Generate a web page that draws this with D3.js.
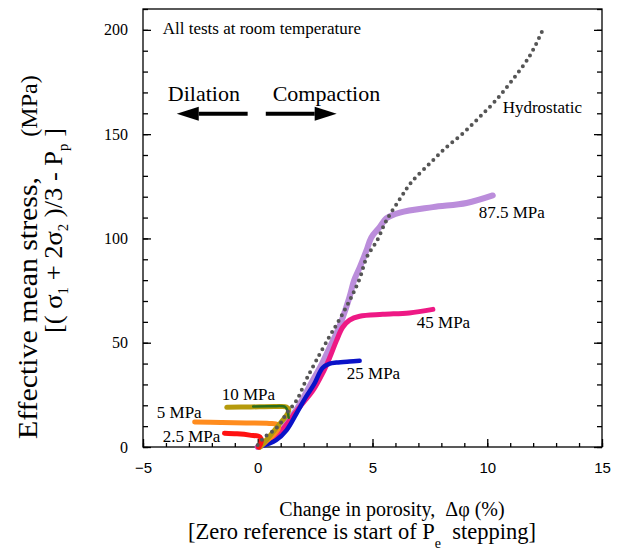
<!DOCTYPE html>
<html>
<head>
<meta charset="utf-8">
<script src="https://cdnjs.cloudflare.com/ajax/libs/d3/7.8.5/d3.min.js"></script>
<style>
    body { margin: 0; background: #fff; }
    .serif { font-family: "Liberation Serif", "Times New Roman", serif; }
    .axis path, .axis line { stroke: #000; stroke-width: 1.3; }
</style>
</head>
<body>
<div class="graph-content"></div>
<script>
// x = change in porosity (%), y = effective mean stress (MPa)
var hydroX = [0, 0.3, 0.7, 1.0, 1.25, 1.7, 2.1, 2.55, 3.1, 3.45, 3.85, 4.15, 4.45, 4.75, 5.2, 5.6, 6.2, 6.7, 7.5, 8.2, 8.95, 9.65, 10.4, 11.1, 11.85, 12.4];
var hydroY = [1, 4.8, 8, 11.5, 16, 22.5, 32, 41.5, 52.5, 59, 67, 73.5, 81, 91, 99, 108.5, 119, 127, 136, 143.5, 150.5, 158, 166.5, 176, 187.5, 199.5];

var p875X = [0, 0.8, 1.3, 1.8, 2.3, 2.8, 3.1, 3.43, 3.7, 4.0, 4.2, 4.44, 4.73, 4.95, 5.32, 5.6, 6.19, 7.63, 9.1, 10.24];
var p875Y = [0, 5, 12, 20, 30, 40, 47, 54.5, 62, 72, 80, 86, 94, 100.5, 105.5, 109.6, 112.4, 115, 117, 120.6];

var p45X = [0, 0.7, 1.2, 1.6, 2.0, 2.4, 2.83, 3.14, 3.43, 3.7, 4.0, 4.44, 5.45, 6.6, 7.63];
var p45Y = [0, 4, 10, 16, 21.5, 27, 35.4, 43, 51, 57.4, 60.8, 62.7, 63.6, 64.3, 66];

var p25X = [0.05, 0.8, 1.25, 1.7, 2.1, 2.45, 2.83, 3.14, 3.43, 4.0, 4.44];
var p25Y = [0, 3.3, 8, 16.3, 24, 30, 38, 40, 40.5, 41, 41.3];

var p10X = [0.1, 0.5, 0.95, 1.3, 1.35, 1.25, 0.8, -0.3, -1.35];
var p10Y = [0, 5, 11, 16, 18, 19.2, 19.4, 19.2, 19];

var p10bX = [1.35, 1.3, 1.2, 0.6, -0.2];
var p10bY = [14, 17, 19.2, 19.5, 19.4];

var p5X = [0.1, 0.4, 0.7, 0.9, 0.85, 0.5, -0.5, -1.6, -2.75];
var p5Y = [0, 3, 6, 9, 10.8, 11.3, 11.5, 11.7, 12];

var p25bX = [0.05, 0.15, 0.1, -0.35, -0.9, -1.45];
var p25bY = [0, 2.5, 4.8, 5.7, 6.3, 6.6];

var yMajor = [0, 50, 100, 150, 200];
var xMajor = [-5, 0, 5, 10, 15];

var margin = {top: 9, right: 21, bottom: 103, left: 143},
    width = 623 - margin.left - margin.right,
    height = 550 - margin.top - margin.bottom;

var svg = d3.select(".graph-content").append("svg")
    .attr("width", 623)
    .attr("height", 550)
    .append("g")
    .attr("transform", "translate(" + margin.left + "," + margin.top + ")");

var x = d3.scaleLinear().domain([-5, 15]).range([0, width]);
var y = d3.scaleLinear().domain([0, 210]).range([height, 0]);

// frame
svg.append("rect")
    .attr("width", width)
    .attr("height", height)
    .attr("fill", "none")
    .attr("stroke", "#000")
    .attr("stroke-width", 1.3);

// minor ticks
svg.append("g").attr("class", "axis")
    .call(d3.axisLeft(y).tickValues(d3.range(0, 211, 10)).tickSize(-5).tickSizeOuter(0).tickFormat(""));
svg.append("g").attr("class", "axis")
    .attr("transform", "translate(" + width + ",0)")
    .call(d3.axisRight(y).tickValues(d3.range(0, 211, 10)).tickSize(-5).tickSizeOuter(0).tickFormat(""));
svg.append("g").attr("class", "axis")
    .attr("transform", "translate(0," + height + ")")
    .call(d3.axisBottom(x).tickValues(d3.range(-5, 16, 1)).tickSize(-4).tickSizeOuter(0).tickFormat(""));

// major ticks + labels
svg.append("g").attr("class", "axis serif")
    .call(d3.axisLeft(y).tickValues(yMajor).tickSize(-8).tickSizeOuter(0).tickPadding(15))
    .selectAll("text")
    .attr("font-size", 16)
    .attr("font-family", "Liberation Serif, Times New Roman, serif");
svg.append("g").attr("class", "axis")
    .attr("transform", "translate(" + width + ",0)")
    .call(d3.axisRight(y).tickValues(yMajor).tickSize(-8).tickSizeOuter(0).tickFormat(""));
svg.append("g").attr("class", "axis")
    .attr("transform", "translate(0," + height + ")")
    .call(d3.axisBottom(x).tickValues(xMajor).tickSize(-8).tickSizeOuter(0).tickPadding(15))
    .selectAll("text")
    .attr("font-size", 15)
    .attr("font-family", "Liberation Sans, Arial, sans-serif");

svg.selectAll(".axis .domain").remove();

var line = d3.line()
    .curve(d3.curveCatmullRom.alpha(0.5))
    .x(function(d) { return x(d[0]); })
    .y(function(d) { return y(d[1]); });

function pts(xs, ys) { return xs.map(function(v, i) { return [v, ys[i]]; }); }

function drawCurve(xs, ys, color, w) {
    svg.append("path")
        .datum(pts(xs, ys))
        .attr("d", line)
        .attr("fill", "none")
        .attr("stroke", color)
        .attr("stroke-width", w)
        .attr("stroke-linecap", "round")
        .attr("stroke-linejoin", "round");
}

drawCurve(p875X, p875Y, "#bb8ddb", 6);
drawCurve(p45X, p45Y, "#ee1985", 5);
drawCurve(p25X, p25Y, "#0a12c8", 4.5);
drawCurve(p5X, p5Y, "#ff8c1e", 5);
drawCurve(p10X, p10Y, "#b59a0c", 5);
drawCurve(p10bX, p10bY, "#2b6d1b", 2.5);
drawCurve(p25bX, p25bY, "#ff1212", 5);

// hydrostatic, dotted
svg.append("path")
    .datum(pts(hydroX, hydroY))
    .attr("d", line)
    .attr("fill", "none")
    .attr("stroke", "#555")
    .attr("stroke-width", 4)
    .attr("stroke-linecap", "round")
    .attr("stroke-dasharray", "0,6.5");

// curve labels
var labels = [
    ["Hydrostatic", 10.67, 160.3],
    ["87.5 MPa", 9.63, 110],
    ["45 MPa", 6.93, 57],
    ["25 MPa", 3.88, 32.5],
    ["10 MPa", -1.57, 22.5],
    ["5 MPa", -4.4, 13.9],
    ["2.5 MPa", -4.14, 2.4]
];
svg.selectAll(".lab")
    .data(labels)
    .enter().append("text")
    .attr("class", "lab serif")
    .attr("x", function(d) { return x(d[1]); })
    .attr("y", function(d) { return y(d[2]); })
    .attr("font-size", 17)
    .text(function(d) { return d[0]; });

svg.append("text").attr("class", "serif")
    .attr("x", x(-4.14)).attr("y", y(198))
    .attr("font-size", 17)
    .text("All tests at room temperature");

svg.append("text").attr("class", "serif")
    .attr("x", x(-3.92)).attr("y", y(166))
    .attr("font-size", 22)
    .text("Dilation");
svg.append("text").attr("class", "serif")
    .attr("x", x(0.65)).attr("y", y(166))
    .attr("font-size", 22)
    .text("Compaction");

// arrows
function arrow(x0, x1, yv) {
    var dir = x1 > x0 ? 1 : -1;
    var ay = y(yv), tip = x(x1), base = tip - dir * 22;
    svg.append("line")
        .attr("x1", x(x0)).attr("x2", base)
        .attr("y1", ay).attr("y2", ay)
        .attr("stroke", "#000").attr("stroke-width", 4);
    svg.append("path")
        .attr("d", "M" + tip + "," + ay + "L" + base + "," + (ay - 7) + "L" + base + "," + (ay + 7) + "Z")
        .attr("fill", "#000");
}
arrow(-0.44, -3.53, 159.8);
arrow(0.35, 3.44, 159.8);

// axis titles
svg.append("text").attr("class", "serif")
    .attr("text-anchor", "middle")
    .attr("font-size", 20)
    .attr("transform", "translate(" + (392 - margin.left) + "," + (516 - margin.top) + ")")
    .text("Change in porosity,\u00a0\u00a0\u0394\u03c6 (%)");
var xt2 = svg.append("text").attr("class", "serif")
    .attr("text-anchor", "middle")
    .attr("font-size", 22.5)
    .attr("transform", "translate(" + (362 - margin.left) + "," + (539 - margin.top) + ")");
xt2.append("tspan").text("[Zero reference is start of P");
xt2.append("tspan").text("e").attr("font-size", 14).attr("dy", 9);
xt2.append("tspan").text("\u00a0 stepping]").attr("dy", -9);

// y title
svg.append("text").attr("class", "serif")
    .attr("text-anchor", "middle")
    .attr("font-size", 27)
    .attr("textLength", 262)
    .attr("lengthAdjust", "spacingAndGlyphs")
    .attr("transform", "translate(" + (37 - margin.left) + "," + (308 - margin.top) + ") rotate(-90)")
    .text("Effective mean stress,");
svg.append("text").attr("class", "serif")
    .attr("text-anchor", "middle")
    .attr("font-size", 24)
    .attr("transform", "translate(" + (37 - margin.left) + "," + (106 - margin.top) + ") rotate(-90)")
    .text("(MPa)");

var yt2 = svg.append("text").attr("class", "serif")
    .attr("font-size", 25)
    .attr("textLength", 205)
    .attr("lengthAdjust", "spacingAndGlyphs")
    .attr("transform", "translate(" + (62 - margin.left) + "," + (333 - margin.top) + ") rotate(-90)");
yt2.append("tspan").text("[(\u00a0\u03c3");
yt2.append("tspan").text("1").attr("font-size", 14).attr("dy", 6);
yt2.append("tspan").text("\u00a0+ 2\u03c3").attr("dy", -6);
yt2.append("tspan").text("2").attr("font-size", 14).attr("dy", 6);
yt2.append("tspan").text("\u00a0)/3 - P").attr("dy", -6);
yt2.append("tspan").text("p").attr("font-size", 14).attr("dy", 6);
yt2.append("tspan").text("\u00a0]").attr("dy", -6);
</script>
</body>
</html>
